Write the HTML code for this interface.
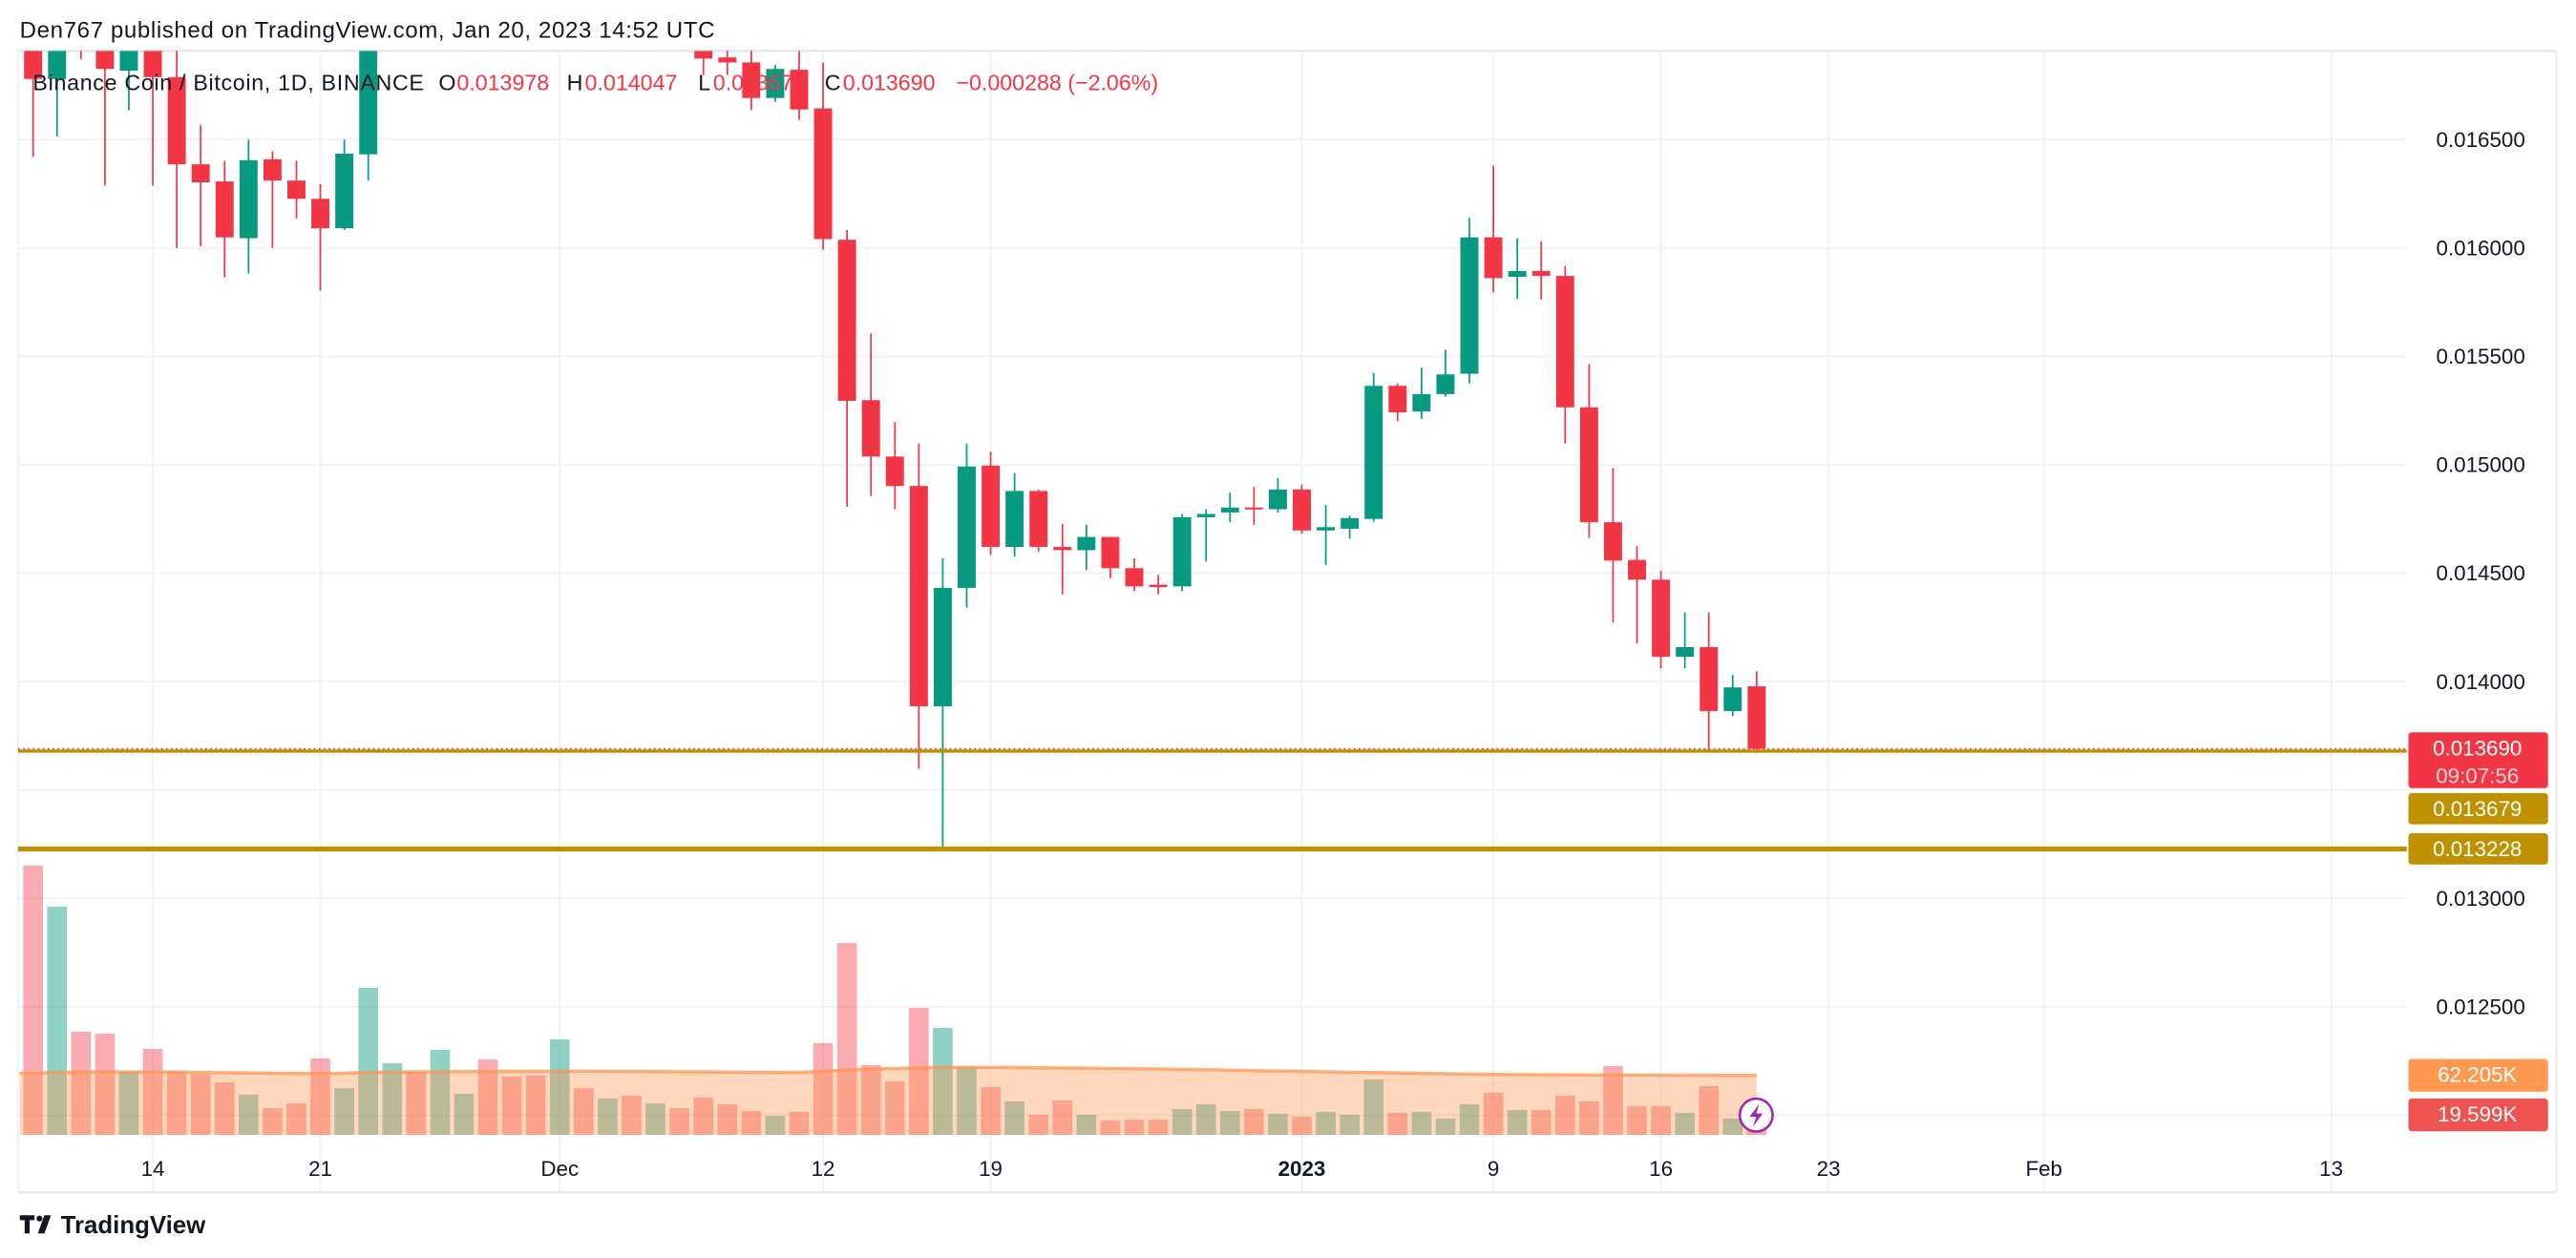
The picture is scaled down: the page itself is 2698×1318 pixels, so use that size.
<!DOCTYPE html>
<html><head><meta charset="utf-8"><style>
html,body{margin:0;padding:0;background:#fff;}
svg{display:block;font-family:"Liberation Sans",Arial,sans-serif;}
</style></head><body>
<svg id="chart" width="2698" height="1318" viewBox="0 0 1568 766" xmlns="http://www.w3.org/2000/svg">
<defs><clipPath id="plotClip"><rect x="11" y="31" width="1454" height="700"/></clipPath></defs>
<rect x="0" y="0" width="1568" height="766" fill="#ffffff"/>
<text x="12" y="23" font-size="14" fill="#131722" textLength="423">Den767 published on TradingView.com, Jan 20, 2023 14:52 UTC</text>
<line x1="11" y1="31" x2="1556" y2="31" stroke="#e6e8ec" stroke-width="1.5"/>
<line x1="11" y1="31" x2="11" y2="725" stroke="#eef0f3" stroke-width="1"/>
<line x1="1556" y1="31" x2="1556" y2="725" stroke="#e6e8ec" stroke-width="1"/>
<line x1="11" y1="726" x2="1556" y2="726" stroke="#e6e8ec" stroke-width="1.5"/>
<g id="grid"></g>
<g id="volume" clip-path="url(#plotClip)"></g>
<g id="candles" clip-path="url(#plotClip)"></g>
<g id="levels"></g>
<g id="axes"></g>
<text y="55" font-size="13.5" fill="#131722"><tspan x="20" textLength="238">Binance Coin / Bitcoin, 1D, BINANCE</tspan><tspan x="267">O</tspan><tspan x="278" fill="#f23645">0.013978</tspan><tspan x="345">H</tspan><tspan x="356" fill="#f23645">0.014047</tspan><tspan x="425">L</tspan><tspan x="434" fill="#f23645">0.013670</tspan><tspan x="502">C</tspan><tspan x="513" fill="#f23645">0.013690</tspan><tspan x="582" fill="#f23645">−0.000288 (−2.06%)</tspan></text>
<g>
<circle cx="1069" cy="679" r="10" fill="#fff" stroke="#9c27b0" stroke-width="1.5"/>
<path d="M1071 672 L1065 680 L1069 680 L1067 686 L1073 678 L1069 678 Z" fill="#9c27b0"/>
</g>
<g>
<path d="M12 740 h9 v3 h-3 v8 h-3 v-8 h-3 z" fill="#131722"/>
<circle cx="24" cy="742" r="1.8" fill="#131722"/>
<path d="M27 740 h4 l-4 11 h-4 z" fill="#131722"/>
<text x="37" y="751" font-size="15" font-weight="bold" fill="#131722">TradingView</text>
</g>
<script>
const days = [];
for (let d = -5; d <= 67; d++) days.push(d);
const opens  = [0.016992,0.016780,0.017106,0.017030,0.016818,0.016992,0.016788,0.016386,0.016307,0.016045,0.016409,0.016311,0.016227,0.016091,0.016432,0.01703,0.01718,0.01712,0.01722,0.01738,0.01730,0.01720,0.01715,0.01724,0.01710,0.01718,0.01708,0.01712,0.016955,0.016879,0.016856,0.016692,0.016822,0.016644,0.016038,0.015298,0.015038,0.014902,0.013886,0.014432,0.014996,0.014621,0.014879,0.014621,0.014606,0.014667,0.014523,0.014447,0.014439,0.014758,0.014780,0.014803,0.014795,0.014886,0.014697,0.014705,0.014750,0.015364,0.015246,0.015326,0.015420,0.016049,0.015867,0.015894,0.015871,0.015265,0.014735,0.014561,0.014470,0.014114,0.014159,0.013864,0.013978];
const highs  = [0.017068,0.017030,0.017150,0.017106,0.017050,0.017068,0.016932,0.016568,0.016402,0.016500,0.016447,0.016402,0.016295,0.016500,0.017090,0.01725,0.01735,0.01728,0.01745,0.01752,0.01742,0.01734,0.01728,0.01738,0.01726,0.01730,0.01722,0.01725,0.017000,0.016932,0.016955,0.016845,0.016932,0.016856,0.016083,0.015606,0.015197,0.015098,0.014568,0.015098,0.015061,0.014962,0.014886,0.014727,0.014723,0.014667,0.014568,0.014492,0.014773,0.014795,0.014871,0.014898,0.014939,0.014909,0.014814,0.014765,0.015424,0.015375,0.015447,0.015530,0.016139,0.016379,0.016045,0.016032,0.015917,0.015465,0.014985,0.014625,0.014510,0.014318,0.014318,0.014030,0.014047];
const lows   = [0.016420,0.016515,0.016871,0.016288,0.016636,0.016288,0.016000,0.016008,0.015864,0.015883,0.016000,0.016136,0.015803,0.016083,0.016311,0.01698,0.01705,0.01700,0.01715,0.01722,0.01712,0.01706,0.01702,0.01692,0.01700,0.01702,0.01698,0.01696,0.016798,0.016798,0.016636,0.016674,0.016591,0.015992,0.014806,0.014856,0.014795,0.013598,0.013220,0.014341,0.014583,0.014576,0.014598,0.014402,0.014515,0.014477,0.014417,0.014402,0.014417,0.014553,0.014735,0.014723,0.014780,0.014682,0.014538,0.014659,0.014738,0.015201,0.015212,0.015314,0.015375,0.015795,0.015765,0.015762,0.015098,0.014662,0.014273,0.014176,0.014061,0.014061,0.013677,0.013841,0.013670];
const closes = [0.016780,0.016955,0.016977,0.016826,0.016992,0.016788,0.016386,0.016303,0.016049,0.016405,0.016311,0.016227,0.016091,0.016435,0.017030,0.01718,0.01712,0.01722,0.01738,0.01730,0.01720,0.01715,0.01724,0.01710,0.01718,0.01708,0.01712,0.01700,0.016874,0.016856,0.016692,0.016826,0.016639,0.016041,0.015295,0.015038,0.014902,0.013886,0.014432,0.014992,0.014621,0.014879,0.014621,0.014606,0.014667,0.014523,0.014439,0.014436,0.014758,0.014773,0.014803,0.014795,0.014886,0.014697,0.014712,0.014754,0.015364,0.015242,0.015326,0.015417,0.016049,0.015861,0.015894,0.015871,0.015265,0.014735,0.014558,0.014470,0.014114,0.014159,0.013864,0.013973,0.013690];
const volumes = [282,239,108,106,66,90,67,63,55,42,28,33,80,49,154,75,66,89,43,79,61,62,100,49,38,41,33,28,39,32,25,20,24,96,201,73,56,133,112,71,50,35,21,36,21,15,16,16,27,32,25,27,22,19,24,21,58,23,24,17,32,44,26,26,41,35,72,30,30,23,51,17,19.599];
const volMA = [64.6,65.5,65.8,65.9,65.8,65.7,65.6,65.3,65.0,64.8,64.5,64.3,64.2,64.4,65.5,65.8,65.9,66.1,66.2,66.3,66.4,66.5,66.5,66.6,66.5,66.3,66.2,66.0,65.9,65.7,65.6,65.5,65.4,66.5,68.0,68.8,69.5,70.2,70.5,70.6,70.6,70.4,70.2,70.0,69.8,69.5,69.3,69.0,68.6,68.2,67.8,67.2,66.8,66.4,66.0,65.6,65.2,64.8,64.4,64.0,63.6,63.3,63.0,62.9,62.8,62.7,62.6,62.6,62.5,62.4,62.3,62.2,62.2];
const priceTicks = [0.0165,0.016,0.0155,0.015,0.0145,0.014,0.0135,0.013,0.0125,0.012];
const priceTickLabels = ["0.016500","0.016000","0.015500","0.015000","0.014500","0.014000","","0.013000","0.012500",""];
const dateTickDays = [0,7,17,28,35,48,56,63,70,79,91];
const dateTickLabels = ["14","21","Dec","12","19","2023","9","16","23","Feb","13"];
const lastClose = 0.013690, goldLevel1 = 0.013679, goldLevel2 = 0.013228;
const volLast = 19.599, volMALast = 62.205;

const NS = "http://www.w3.org/2000/svg";
function xOf(d){ return 93 + d * (102/7); }
function yOf(p){ return 85 + (0.0165 - p) / 0.0005 * 66; }
function yV(v){ return 691 - v / 1.72; }
function mk(tag, attrs, parent){ const e = document.createElementNS(NS, tag); for (const k in attrs) e.setAttribute(k, attrs[k]); parent.appendChild(e); return e; }

const grid = document.getElementById('grid');
priceTicks.forEach((p,i)=>{
  const l = mk('line',{x1:11,x2:1465,y1:yOf(p),y2:yOf(p),stroke:'#f0f1f4','stroke-width':1},grid);
  
  
});
dateTickDays.forEach((d,i)=>{
  const l = mk('line',{x1:xOf(d),x2:xOf(d),y1:31,y2:725,stroke:'#f0f1f4','stroke-width':1},grid);
  
  
});

const vol = document.getElementById('volume');
days.forEach((d,i)=>{
  const up = closes[i] >= opens[i];
  const r = mk('rect',{x:xOf(d)-6,y:yV(volumes[i]),width:12,height:691-yV(volumes[i]),fill: up ? 'rgba(8,153,129,0.45)' : 'rgba(242,54,69,0.42)'},vol);
  
  
});
let areaD = 'M12 691 L12 ' + yV(volMA[0]);
days.forEach((d,i)=>{ areaD += ' L' + xOf(d) + ' ' + yV(volMA[i]); });
areaD += ' L' + xOf(days[days.length-1]) + ' 691 Z';
const area = mk('path',{d:areaD,fill:'rgba(255,150,80,0.38)'},vol);


let lineD = 'M12 ' + yV(volMA[0]);
days.forEach((d,i)=>{ lineD += ' L' + xOf(d) + ' ' + yV(volMA[i]); });
const maLine = mk('path',{d:lineD,fill:'none',stroke:'rgba(255,150,80,0.75)','stroke-width':2},vol);



const cg = document.getElementById('candles');
days.forEach((d,i)=>{
  const up = closes[i] >= opens[i];
  const col = up ? '#089981' : '#f23645';
  const x = xOf(d);
  const w = mk('line',{x1:x,x2:x,y1:yOf(highs[i]),y2:yOf(lows[i]),stroke:col,'stroke-width':1},cg);
  
  
  const top = yOf(Math.max(opens[i],closes[i])), bot = yOf(Math.min(opens[i],closes[i]));
  const b = mk('rect',{x:x-5.5,y:top,width:11,height:Math.max(1.2,bot-top),fill:col},cg);
  
  
});

const lv = document.getElementById('levels');
const g1 = mk('line',{x1:11,x2:1465,y1:yOf(goldLevel1),y2:yOf(goldLevel1),stroke:'#bf9000','stroke-width':2},lv);


const rl = mk('line',{x1:11,x2:1465,y1:yOf(lastClose),y2:yOf(lastClose),stroke:'#f23645','stroke-width':1,'stroke-dasharray':'1 2'},lv);


const g2 = mk('line',{x1:11,x2:1465,y1:yOf(goldLevel2),y2:yOf(goldLevel2),stroke:'#bf9000','stroke-width':3},lv);



const ax = document.getElementById('axes');
priceTicks.forEach((p,i)=>{
  if(!priceTickLabels[i]) return;
  const t = mk('text',{x:1510,y:yOf(p)+4.5,'font-size':13,'text-anchor':'middle',fill:'#131722'},ax);
  t.textContent = priceTickLabels[i];
  
  
});
dateTickDays.forEach((d,i)=>{
  const t = mk('text',{x:xOf(d),y:716,'font-size':13,'text-anchor':'middle',fill:'#131722','font-weight': dateTickLabels[i]==='2023'?'bold':'normal'},ax);
  t.textContent = dateTickLabels[i];
  
  
});
function tag(y1,h,fill,lines,name){
  const g = mk('g',{},ax);
  
  
  mk('rect',{x:1466,y:y1,width:85,height:h,rx:2,fill:fill},g);
  lines.forEach((s,k)=>{
    const t = mk('text',{x:1508,y:y1+14+k*17,'font-size':13,'text-anchor':'middle',fill:k? 'rgba(255,255,255,0.8)':'#fff'},g);
    t.textContent = s;
  });
}
const yc = yOf(lastClose);
tag(yc-10,34,'#f23645',[lastClose.toFixed(6),'09:07:56'],'last-price-tag');
tag(yc+27,19,'#bf9000',[goldLevel1.toFixed(6)],'support-tag-upper');
tag(yOf(goldLevel2)-9.5,19,'#bf9000',[goldLevel2.toFixed(6)],'support-tag-lower');
tag(yV(volMALast)-10,20,'#ff9850',[volMALast.toFixed(3)+'K'],'volume-ma-tag');
tag(yV(volMALast)+14,20,'#ef5350',[volLast.toFixed(3)+'K'],'volume-tag');
</script>
</svg>
</body></html>
